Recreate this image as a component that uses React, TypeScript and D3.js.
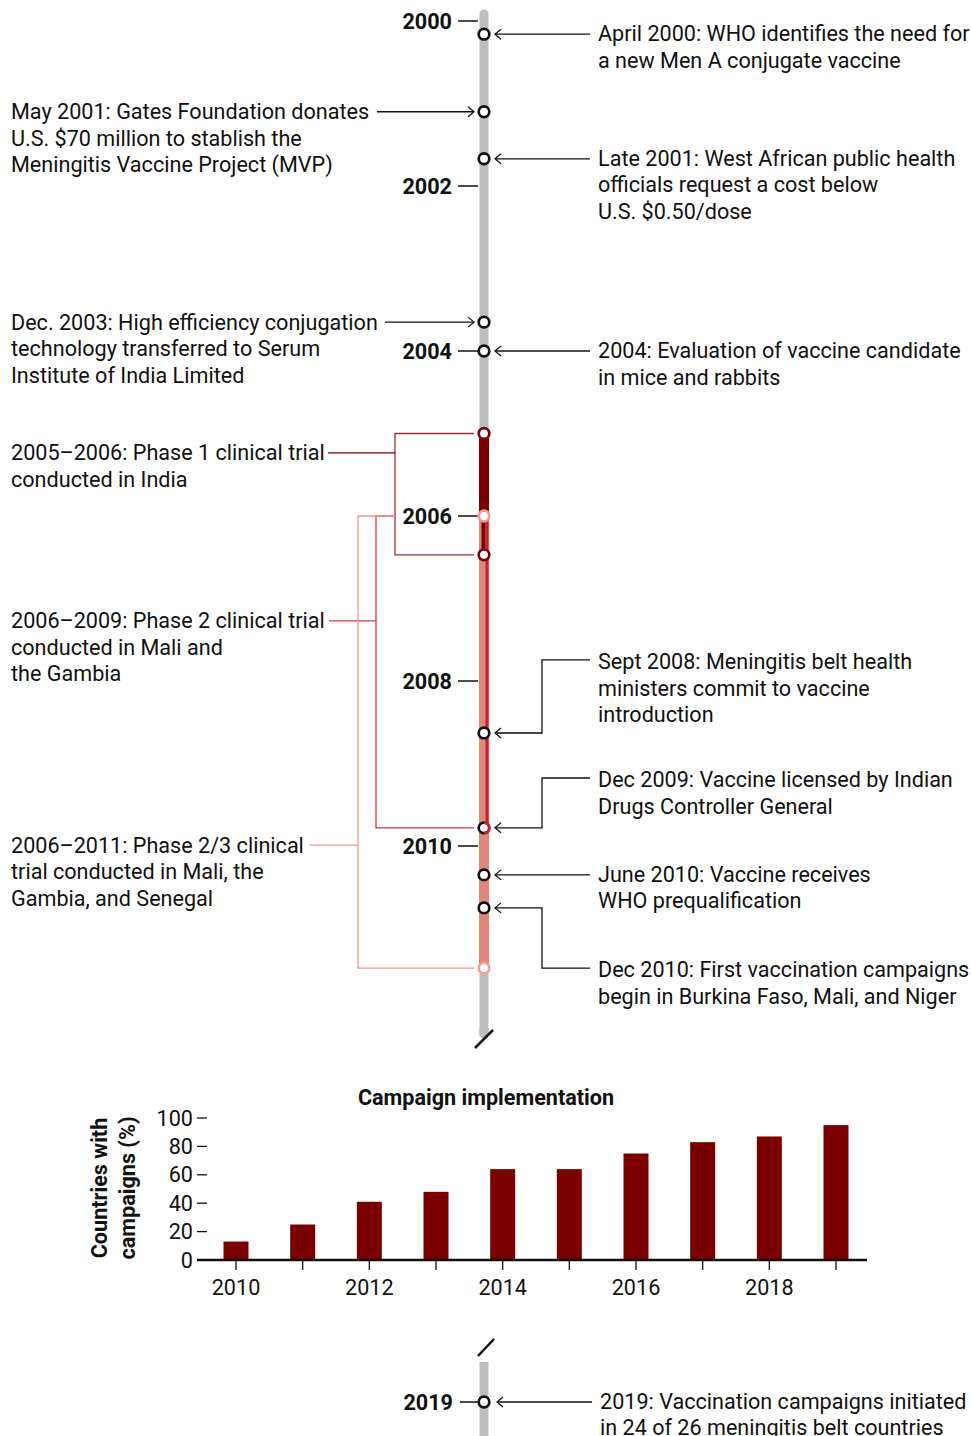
import React from "react";
import * as d3 from "d3";

// ---------- Data ----------
const yearTicks = [2000, 2002, 2004, 2006, 2008, 2010];

type Ev = { date: number; lines: string[] };

const rightEvents: Ev[] = [
  { date: 2000.16, lines: ["April 2000: WHO identifies the need for", "a new Men A conjugate vaccine"] },
  { date: 2001.67, lines: ["Late 2001: West African public health", "officials request a cost below", "U.S. $0.50/dose"] },
  { date: 2004.0, lines: ["2004: Evaluation of vaccine candidate", "in mice and rabbits"] },
  { date: 2008.63, lines: ["Sept 2008: Meningitis belt health", "ministers commit to vaccine", "introduction"] },
  { date: 2009.78, lines: ["Dec 2009: Vaccine licensed by Indian", "Drugs Controller General"] },
  { date: 2010.35, lines: ["June 2010: Vaccine receives", "WHO prequalification"] },
  { date: 2010.75, lines: ["Dec 2010: First vaccination campaigns", "begin in Burkina Faso, Mali, and Niger"] },
];

const leftEvents: Ev[] = [
  { date: 2001.1, lines: ["May 2001: Gates Foundation donates", "U.S. $70 million to stablish the", "Meningitis Vaccine Project (MVP)"] },
  { date: 2003.65, lines: ["Dec. 2003: High efficiency conjugation", "technology transferred to Serum", "Institute of India Limited"] },
];

type Phase = { start: number; end: number; lines: string[] };
const phases: Phase[] = [
  { start: 2005.0, end: 2006.47, lines: ["2005–2006: Phase 1 clinical trial", "conducted in India"] },
  { start: 2006.0, end: 2009.78, lines: ["2006–2009: Phase 2 clinical trial", "conducted in Mali and", "the Gambia"] },
  { start: 2006.0, end: 2011.48, lines: ["2006–2011: Phase 2/3 clinical", "trial conducted in Mali, the", "Gambia, and Senegal"] },
];

const finalEvent: Ev = { date: 2019, lines: ["2019: Vaccination campaigns initiated", "in 24 of 26 meningitis belt countries"] };

const campaignYears = [2010, 2011, 2012, 2013, 2014, 2015, 2016, 2017, 2018, 2019];
const campaignPct = [13, 25, 41, 48, 64, 64, 75, 83, 87, 95];
const pctTicks = [0, 20, 40, 60, 80, 100];
const yearLabelTicks = [2010, 2012, 2014, 2016, 2018];

// ---------- Layout / style ----------
const W = 971;
const H = 1436;
const FONT = "Roboto, 'Noto Sans', sans-serif";
const FS = 21.6;
const AX = 484; // timeline x
const GRAY = "#bebebe";
const DARK = "#7a0000";
const RED = "#cf1f2a";
const SALMON = "#e0877b";
const INK = "#111";
const LINE_H = 26.6;

// label anchor dates for right-side elbow annotations
const rightLabelDate: Record<number, number> = { 3: 2007.745, 4: 2009.176, 6: 2011.48 };
const phaseLabelDate = [2005.236, 2007.27, 2009.99];
const phaseBracketX = [395, 376, 358];
const phaseLabelEnd = [328, 329, 310];
const phaseBracketColors = ["#9a3434", "#d83a40", "#ec9a90"];
const leftArrowStart = [377, 385];

const y = d3.scaleLinear().domain([2000, 2010]).range([21, 846]);

function Lines({ x, yc, lines, anchor = "start", weight = 400 }: { x: number; yc: number; lines: string[]; anchor?: string; weight?: number }) {
  return (
    <text x={x} y={yc} fontFamily={FONT} fontSize={FS} fill={INK} textAnchor={anchor} fontWeight={weight}>
      {lines.map((l, i) => (
        <tspan key={i} x={x} y={yc + i * LINE_H} dominantBaseline="central">
          {l}
        </tspan>
      ))}
    </text>
  );
}

function ArrowLeft({ x, yy }: { x: number; yy: number }) {
  return <path d={`M${x + 6},${yy - 5} L${x},${yy} L${x + 6},${yy + 5}`} fill="none" stroke={INK} strokeWidth={1.3} />;
}
function ArrowRight({ x, yy }: { x: number; yy: number }) {
  return <path d={`M${x - 6},${yy - 5} L${x},${yy} L${x - 6},${yy + 5}`} fill="none" stroke={INK} strokeWidth={1.3} />;
}

function Dot({ yy, stroke = INK }: { yy: number; stroke?: string }) {
  return <circle cx={AX} cy={yy} r={5.3} fill="#fff" stroke={stroke} strokeWidth={2.7} />;
}

function BarChart() {
  const x = d3.scaleLinear().domain([2010, 2019]).range([236, 836]);
  const yb = d3.scaleLinear().domain([0, 100]).range([1260, 1118]);
  const bw = 25;
  return (
    <g>
      <text x={486} y={1097} fontFamily={FONT} fontSize={FS} fontWeight={700} textAnchor="middle" dominantBaseline="central" fill={INK}>
        Campaign implementation
      </text>
      <g transform="translate(113,1188) rotate(-90)">
        <text fontFamily={FONT} fontSize={FS} fontWeight={700} textAnchor="middle" fill={INK}>
          <tspan x={0} y={-14} dominantBaseline="central">Countries with</tspan>
          <tspan x={0} y={14} dominantBaseline="central">campaigns (%)</tspan>
        </text>
      </g>
      {campaignYears.map((yr, i) => (
        <rect key={yr} x={x(yr) - bw / 2} y={yb(campaignPct[i])} width={bw} height={yb(0) - yb(campaignPct[i])} fill={DARK} />
      ))}
      {pctTicks.map((t) => (
        <g key={t}>
          <line x1={197} x2={207} y1={yb(t)} y2={yb(t)} stroke={INK} strokeWidth={1.3} />
          <text x={193} y={yb(t)} fontFamily={FONT} fontSize={FS} textAnchor="end" dominantBaseline="central" fill={INK}>
            {t}
          </text>
        </g>
      ))}
      <line x1={197} x2={867} y1={yb(0)} y2={yb(0)} stroke={INK} strokeWidth={2.5} />
      {campaignYears.map((yr) => (
        <line key={yr} x1={x(yr)} x2={x(yr)} y1={yb(0)} y2={yb(0) + 10} stroke={INK} strokeWidth={1.3} />
      ))}
      {yearLabelTicks.map((yr) => (
        <text key={yr} x={x(yr)} y={1287} fontFamily={FONT} fontSize={FS} textAnchor="middle" dominantBaseline="central" fill={INK}>
          {yr}
        </text>
      ))}
    </g>
  );
}

export default function App() {
  const p1 = phases[0], p2 = phases[1], p3 = phases[2];
  const yBottom = 1034;
  const y2019 = 1402;
  return (
    <svg width={W} height={H} style={{ display: "block", position: "absolute", left: 0, top: 0 }} xmlns="http://www.w3.org/2000/svg">
      <rect width={W} height={H} fill="#fff" />
      {/* gray timeline */}
      <line x1={AX} x2={AX} y1={14} y2={yBottom} stroke={GRAY} strokeWidth={9} strokeLinecap="round" />
      <rect x={AX - 4.5} y={yBottom - 6} width={9} height={8} fill={GRAY} />
      <line x1={475} y1={1048} x2={493} y2={1030} stroke={INK} strokeWidth={2.5} />

      {/* phase bars */}
      <rect x={AX - 5} y={y(p3.start)} width={10} height={y(p3.end) - y(p3.start)} fill={SALMON} />
      <rect x={AX - 5} y={y(p1.start)} width={10} height={y(p3.start) - y(p1.start)} fill={DARK} />
      <rect x={AX - 2.5} y={y(p3.start)} width={4} height={y(p1.end) - y(p3.start)} fill={DARK} />
      <rect x={AX + 1.5} y={y(p2.start)} width={3} height={y(p2.end) - y(p2.start)} fill={RED} />

      {/* phase brackets */}
      {phases.map((p, i) => {
        const bx = phaseBracketX[i];
        const c = phaseBracketColors[i];
        const ly = y(phaseLabelDate[i]);
        const topEnd = i === 0 ? AX - 10 : 395;
        return (
          <g key={i} fill="none" strokeWidth={1.3}>
            <path d={`M${topEnd},${y(p.start)} H${bx} V${y(p.end)} H${AX - 10}`} stroke={c} />
            <line x1={phaseLabelEnd[i]} x2={bx} y1={ly} y2={ly} stroke={i === 0 ? DARK : c} />
            <Lines x={11} yc={ly} lines={p.lines} />
          </g>
        );
      })}

      {/* year ticks */}
      {yearTicks.map((t) => (
        <g key={t}>
          <line x1={458} x2={478} y1={y(t)} y2={y(t)} stroke={INK} strokeWidth={1.5} />
          <text x={452} y={y(t)} fontFamily={FONT} fontSize={FS} fontWeight={700} textAnchor="end" dominantBaseline="central" fill={INK}>
            {t}
          </text>
        </g>
      ))}

      {/* left events */}
      {leftEvents.map((e, i) => {
        const yy = y(e.date);
        return (
          <g key={i}>
            <line x1={leftArrowStart[i]} x2={474} y1={yy} y2={yy} stroke={INK} strokeWidth={1.3} />
            <ArrowRight x={474} yy={yy} />
            <Lines x={11} yc={yy} lines={e.lines} />
            <Dot yy={yy} />
          </g>
        );
      })}

      {/* right events */}
      {rightEvents.map((e, i) => {
        const yy = y(e.date);
        const ld = rightLabelDate[i];
        const ly = ld !== undefined ? y(ld) : yy;
        const path = ld !== undefined ? `M590,${ly} H542 V${yy} H495` : `M590,${yy} H495`;
        return (
          <g key={i}>
            <path d={path} fill="none" stroke={INK} strokeWidth={1.3} />
            <ArrowLeft x={495} yy={yy} />
            <Lines x={598} yc={ly + (ld !== undefined ? 1.5 : -0.5)} lines={e.lines} />
          </g>
        );
      })}

      {/* phase dots */}
      <Dot yy={y(p1.start)} stroke={DARK} />
      <Dot yy={y(p3.start)} stroke="#ea9e95" />
      <Dot yy={y(p1.end)} stroke={DARK} />
      <Dot yy={y(p3.end)} stroke="#eea59c" />
      {/* event dots */}
      {rightEvents.map((e, i) => (
        <Dot key={i} yy={y(e.date)} />
      ))}
      {/* half-red overlay at phase 2 end */}
      <path
        d={`M${AX},${y(p2.end) - 5.3} A5.3,5.3 0 0 1 ${AX},${y(p2.end) + 5.3}`}
        fill="none"
        stroke={RED}
        strokeWidth={2.7}
      />

      <BarChart />

      {/* bottom segment */}
      <line x1={AX} x2={AX} y1={1362} y2={H} stroke={GRAY} strokeWidth={9} />
      <line x1={478} y1={1356} x2={494} y2={1339} stroke={INK} strokeWidth={2.5} />
      <line x1={460} x2={478} y1={y2019} y2={y2019} stroke={INK} strokeWidth={1.5} />
      <text x={453} y={y2019} fontFamily={FONT} fontSize={FS} fontWeight={700} textAnchor="end" dominantBaseline="central" fill={INK}>
        {finalEvent.date}
      </text>
      <line x1={497} x2={592} y1={y2019} y2={y2019} stroke={INK} strokeWidth={1.3} />
      <ArrowLeft x={497} yy={y2019} />
      <Dot yy={y2019} />
      <Lines x={600} yc={y2019 - 1} lines={finalEvent.lines} />
    </svg>
  );
}
